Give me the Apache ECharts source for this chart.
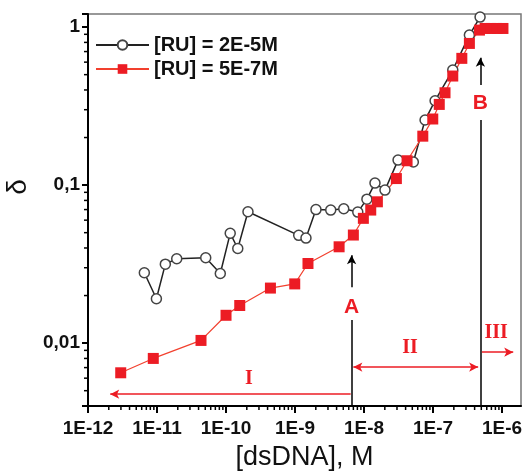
<!DOCTYPE html>
<html>
<head>
<meta charset="utf-8">
<script src="https://cdn.jsdelivr.net/npm/echarts@6/dist/echarts.min.js"></script>
<style>
  html, body { margin: 0; padding: 0; background: #fff; }
  #chart { width: 524px; height: 474px; }
</style>
</head>
<body>
<div id="chart"></div>
<script>
// [RU] = 2E-5M (open circles)
const ruHighX = [6.55e-12, 9.8e-12, 1.32e-11, 1.93e-11, 5.08e-11, 8.26e-11, 1.15e-10, 1.48e-10, 2.08e-10,
  1.13e-9, 1.44e-9, 2.01e-9, 3.29e-9, 5.08e-9, 8.11e-9, 1.10e-8, 1.44e-8, 2.01e-8, 3.11e-8, 5.18e-8,
  7.66e-8, 1.07e-7, 1.93e-7, 3.36e-7, 4.8e-7];
const ruHighY = [0.0279, 0.0191, 0.0316, 0.0342, 0.0347, 0.0276, 0.0495, 0.0397, 0.0678,
  0.0481, 0.0462, 0.070, 0.0695, 0.0708, 0.0675, 0.0815, 0.103, 0.093, 0.144, 0.140,
  0.258, 0.342, 0.535, 0.890, 1.157];

// [RU] = 5E-7M (filled squares)
const ruLowX = [2.98e-12, 8.83e-12, 4.34e-11, 1.0e-10, 1.58e-10, 4.40e-10, 9.9e-10, 1.54e-9, 4.35e-9,
  7.0e-9, 9.77e-9, 1.25e-8, 1.56e-8, 2.94e-8, 4.20e-8, 7.10e-8, 9.9e-8, 1.23e-7, 1.49e-7, 1.93e-7,
  2.61e-7, 3.36e-7, 4.7e-7, 5.68e-7, 6.93e-7, 8.47e-7, 1.03e-6];
const ruLowY = [0.00649, 0.0080, 0.0104, 0.0150, 0.0173, 0.0223, 0.0237, 0.0319, 0.0407,
  0.0483, 0.0616, 0.0695, 0.0784, 0.110, 0.1426, 0.204, 0.262, 0.324, 0.384, 0.490,
  0.634, 0.788, 0.957, 0.98, 0.98, 0.98, 0.98];

const seriesNames = ['[RU] = 2E-5M', '[RU] = 5E-7M'];

// axis ranges
const xMin = 1e-12, xMax = 1.88e-6;
const yMin = 0.004, yMax = 1.21;

// region markers (concentrations A and B)
const pointA = 6.6e-9;
const pointB = 4.85e-7;

const RED = '#ec1c24';

function pairs(xs, ys) {
    return xs.map((x, i) => [x, ys[i]]);
}

// minor ticks at 2..9 x 10^n
const minorTicks = [];
for (let e = -12; e <= -6; e++) {
    for (let k = 2; k <= 9; k++) {
        const v = k * Math.pow(10, e);
        if (v > xMin && v < xMax) minorTicks.push([v, yMin, 0]);
    }
}
for (let e = -3; e <= 0; e++) {
    for (let k = 2; k <= 9; k++) {
        const v = k * Math.pow(10, e);
        if (v > yMin && v < yMax) minorTicks.push([xMin, v, 1]);
    }
}

function isDecade(v) {
    const e = Math.log10(v);
    return Math.abs(e - Math.round(e)) < 1e-6;
}

const chart = echarts.init(document.getElementById('chart'), null, { renderer: 'canvas' });

const arrowLine = (p1, p2, color, sym1, sym2) => [
    { coord: p1, symbol: sym1, lineStyle: { color: color, width: 1.5, type: 'solid' } },
    { coord: p2, symbol: sym2 }
];
const textMark = (coord, text, color, font, size) => ({
    coord: coord,
    symbol: 'circle',
    symbolSize: 1,
    itemStyle: { color: 'rgba(0,0,0,0)' },
    label: {
        show: true, position: 'inside', formatter: text, color: color,
        fontFamily: font, fontWeight: 'bold', fontSize: size
    }
});

chart.setOption({
    animation: false,
    backgroundColor: '#fff',
    grid: {
        left: 88, right: 3, top: 14, bottom: 68,
        outerBoundsMode: 'none',
        containLabel: false,
        show: true, borderColor: '#777', borderWidth: 1.5
    },
    legend: {
        data: seriesNames,
        orient: 'vertical',
        left: 95,
        top: 35,
        padding: 0,
        itemWidth: 53,
        itemHeight: 12,
        itemGap: 4,
        textStyle: { fontFamily: 'Liberation Sans', fontWeight: 'bold', fontSize: 20, color: '#111' }
    },
    xAxis: {
        type: 'log',
        logBase: 10,
        min: xMin,
        max: xMax,
        name: '[dsDNA], M',
        nameLocation: 'middle',
        nameGap: 38,
        nameTextStyle: { fontFamily: 'Liberation Sans', fontSize: 27, color: '#111' },
        axisLine: { lineStyle: { color: '#000', width: 2 } },
        axisTick: { length: 7, lineStyle: { color: '#000', width: 2 } },
        splitLine: { show: false },
        axisLabel: {
            margin: 13,
            fontFamily: 'Liberation Sans', fontWeight: 'bold', fontSize: 19, color: '#111',
            showMinLabel: true, showMaxLabel: false,
            formatter: v => isDecade(v) ? '1E' + Math.round(Math.log10(v)) : ''
        }
    },
    yAxis: {
        type: 'log',
        logBase: 10,
        min: yMin,
        max: yMax,
        name: 'δ',
        nameLocation: 'middle',
        nameGap: 50,
        nameRotate: 90,
        nameTextStyle: { fontFamily: 'Liberation Sans', fontSize: 28, color: '#111', padding: [0, 0, 0, 46] },
        axisLine: { lineStyle: { color: '#000', width: 2 } },
        axisTick: { length: 6, lineStyle: { color: '#000', width: 2 } },
        splitLine: { show: false },
        axisLabel: {
            margin: 8,
            fontFamily: 'Liberation Sans', fontWeight: 'bold', fontSize: 19, color: '#111',
            formatter: v => isDecade(v) ? String(Number(v.toPrecision(3))).replace('.', ',') : ''
        }
    },
    series: [
        {
            type: 'custom',
            silent: true,
            clip: false,
            data: minorTicks,
            renderItem: (params, api) => {
                const p = api.coord([api.value(0), api.value(1)]);
                const vertical = api.value(2) === 0;
                return {
                    type: 'line',
                    shape: vertical
                        ? { x1: p[0], y1: p[1], x2: p[0], y2: p[1] + 4 }
                        : { x1: p[0], y1: p[1], x2: p[0] - 4, y2: p[1] },
                    style: { stroke: '#000', lineWidth: 1.5 }
                };
            }
        },
        {
            type: 'line',
            data: [],
            silent: true,
            markLine: {
                silent: true,
                symbolSize: [7, 9],
                label: { show: false },
                data: [
                    arrowLine([pointA, yMin], [pointA, 0.0140], '#000', 'none', 'none'),
                    arrowLine([pointA, 0.0226], [pointA, 0.036], '#000', 'none', 'arrow'),
                    arrowLine([pointB, yMin], [pointB, 0.258], '#000', 'none', 'none'),
                    arrowLine([pointB, 0.43], [pointB, 0.64], '#000', 'none', 'arrow'),
                    arrowLine([6.4e-9, 0.00475], [2.1e-12, 0.00475], RED, 'none', 'arrow'),
                    arrowLine([7.0e-9, 0.00705], [4.5e-7, 0.00705], RED, 'arrow', 'arrow'),
                    arrowLine([5.1e-7, 0.00877], [1.45e-6, 0.00877], RED, 'none', 'arrow')
                ]
            },
            markPoint: {
                silent: true,
                data: [
                    textMark([pointA, 0.0169], 'A', RED, 'Liberation Sans', 21),
                    textMark([pointB, 0.33], 'B', RED, 'Liberation Sans', 21),
                    textMark([2.15e-10, 0.0059], 'I', RED, 'Liberation Serif', 20),
                    textMark([4.64e-8, 0.0094], 'II', RED, 'Liberation Serif', 20),
                    textMark([8.2e-7, 0.0116], 'III', RED, 'Liberation Serif', 20)
                ]
            }
        },
        {
            name: seriesNames[0],
            type: 'line',
            data: pairs(ruHighX, ruHighY),
            symbol: 'circle',
            symbolSize: 10,
            clip: false,
            lineStyle: { color: '#222', width: 1.5 },
            itemStyle: { color: '#fff', borderColor: '#444', borderWidth: 1.5 }
        },
        {
            name: seriesNames[1],
            type: 'line',
            data: pairs(ruLowX, ruLowY),
            symbol: 'rect',
            symbolSize: 11,
            clip: false,
            lineStyle: { color: '#f2402e', width: 1.2 },
            itemStyle: { color: RED }
        }
    ]
});
</script>
</body>
</html>
